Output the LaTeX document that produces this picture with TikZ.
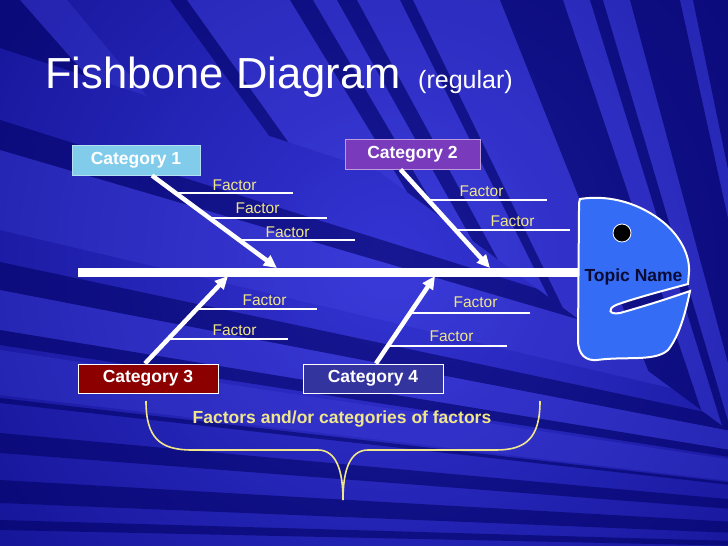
\documentclass[tikz,border=0pt]{standalone}
\usepackage{fontspec}
\setmainfont{Liberation Sans}
\usetikzlibrary{arrows.meta,calc}
\definecolor{bgdark}{RGB}{4,4,120}
\definecolor{bgglow}{RGB}{52,52,212}
\definecolor{stripelight}{RGB}{85,85,245}
\definecolor{stripedark}{RGB}{0,0,95}
\definecolor{cat1col}{RGB}{130,204,235}
\definecolor{cat2col}{RGB}{122,58,188}
\definecolor{cat3col}{RGB}{140,0,0}
\definecolor{cat4col}{RGB}{52,52,158}
\definecolor{factorcol}{RGB}{240,230,140}
\definecolor{headcol}{RGB}{52,108,245}
\definecolor{topiccol}{RGB}{10,10,50}
\begin{document}
\begin{tikzpicture}[x=1pt,y=-1pt,
  catbox/.style={draw=white, line width=1pt, text=white, inner sep=0pt,
    font=\bfseries\fontsize{17.5}{20}\selectfont},
  bone/.style={white, line width=4.5pt, -{Triangle[length=13pt,width=12pt]}},
  fline/.style={white, line width=2.8pt},
  ftext/.style={text=factorcol, inner sep=0pt, font=\fontsize{15.5}{18}\selectfont},
  brace/.style={draw=factorcol, line width=1.6pt},
  lt/.style={fill=stripelight, fill opacity=0.2},
  dk/.style={fill=stripedark, fill opacity=0.55},
]
\useasboundingbox (0,0) rectangle (728,546);
% ---------- background ----------
\begin{scope}
\clip (0,0) rectangle (728,546);
\fill[bgdark] (0,0) rectangle (728,546);
\shade[inner color=bgglow, outer color=bgdark] (390,260) circle (760);
% shallow stripes (left and bottom)
\coordinate (FB) at (1400,560);
\foreach \a/\b/\s in {120/150/dk,150/230/lt,262/290/dk,290/330/lt,330/345/dk,
                      350/395/lt,398/403/dk,433/453/dk,480/503/dk,520/530/dk}
  \fill[\s] (FB) -- ($(FB)!1.3!(0,\a)$) -- ($(FB)!1.3!(0,\b)$) -- cycle;
% steep stripes (top)
\begin{scope}
\clip (0,0) -- (728,0) -- (728,430) -- (380,172) -- (0,48) -- cycle;
\shade[inner color=bgglow, outer color=bgdark] (390,260) circle (760);
\coordinate (FA) at (900,1000);
\foreach \a/\b/\s in {-60/20/dk,20/67/lt,170/187/dk,187/290/lt,290/313/dk,
                      313/337/lt,337/357/dk,357/400/lt,400/413/dk,413/500/lt,
                      500/563/dk,563/590/lt,590/603/dk,603/630/lt,630/680/dk,
                      680/693/lt,693/760/dk}
  \fill[\s] (FA) -- ($(FA)!1.3!(\a,0)$) -- ($(FA)!1.3!(\b,0)$) -- cycle;
\end{scope}
\end{scope}
% ---------- title ----------
\node (title) [anchor=base west, inner sep=0pt, text=white,
  font=\fontsize{43.5}{50}\selectfont] at (45,88) {Fishbone Diagram};
\node (sub) [anchor=base west, inner sep=0pt, text=white,
  font=\fontsize{25}{30}\selectfont] at (418,88) {(regular)};
% ---------- spine ----------
\coordinate (spL) at (78,272);
\coordinate (spR) at (580,272);
\draw[white, line width=9pt] (spL) -- (spR);
% ---------- head ----------
\draw[fill=headcol, draw=white, line width=2pt]
  (580,199) .. controls (612,194) and (642,205) .. (663,222)
  .. controls (680,236) and (690,255) .. (689,272)
  -- (688,284)
  .. controls (662,291) and (632,299) .. (616,305)
  .. controls (607,309) and (609,315) .. (620,313)
  .. controls (645,306) and (670,298) .. (690,291)
  .. controls (686,310) and (680,335) .. (668,350)
  .. controls (655,362) and (625,356) .. (597,360)
  .. controls (586,361) and (578,355) .. (578,340)
  -- (579,210) .. controls (579,202) .. cycle;
\node (eye) [circle, fill=black, draw=white, line width=0.8pt,
  minimum size=18pt, inner sep=0pt] at (622,233) {};
\node (topic) [text=topiccol, inner sep=0pt,
  font=\bfseries\fontsize{17.5}{20}\selectfont] at (633.5,277) {Topic Name};
% ---------- category boxes ----------
\node (cat1) [catbox, fill=cat1col, draw=cat1col!60!white,
  minimum width=128pt, minimum height=30pt] at (136,160) {Category 1};
\node (cat2) [catbox, fill=cat2col, draw=cat2col!50!white,
  minimum width=135pt, minimum height=30pt] at (412.5,154) {Category 2};
\node (cat3) [catbox, fill=cat3col,
  minimum width=140pt, minimum height=29pt] at (148,378.5) {Category 3};
\node (cat4) [catbox, fill=cat4col,
  minimum width=140pt, minimum height=29pt] at (373,378.5) {Category 4};
% ---------- bones ----------
\coordinate (t1) at (277,268);
\coordinate (t2) at (490,268);
\coordinate (t3) at (228,276);
\coordinate (t4) at (435,276);
\draw[bone] ([xshift=16pt]cat1.south) -- (t1);
\draw[bone] ([xshift=-12pt]cat2.south) -- (t2);
\draw[bone] ([xshift=-3pt]cat3.north) -- (t3);
\draw[bone] ([xshift=3pt]cat4.north) -- (t4);
% ---------- factor lines ----------
\coordinate (f11a) at (176,193); \coordinate (f11b) at (293,193);
\coordinate (f12a) at (210,218); \coordinate (f12b) at (327,218);
\coordinate (f13a) at (239,240); \coordinate (f13b) at (355,240);
\coordinate (f21a) at (428,200); \coordinate (f21b) at (547,200);
\coordinate (f22a) at (455,230); \coordinate (f22b) at (570,230);
\coordinate (f31a) at (197,309); \coordinate (f31b) at (317,309);
\coordinate (f32a) at (169,339); \coordinate (f32b) at (288,339);
\coordinate (f41a) at (410,313); \coordinate (f41b) at (530,313);
\coordinate (f42a) at (388,346); \coordinate (f42b) at (507,346);
\foreach \a/\b in {f11a/f11b,f12a/f12b,f13a/f13b,f21a/f21b,f22a/f22b,
                   f31a/f31b,f32a/f32b,f41a/f41b,f42a/f42b}
  \draw[fline] (\a) -- (\b);
% ---------- factor texts ----------
\node (x11) [ftext] at (234.5,185) {Factor};
\node (x12) [ftext] at (257.5,208.5) {Factor};
\node (x13) [ftext] at (287.5,232) {Factor};
\node (x21) [ftext] at (481.5,191) {Factor};
\node (x22) [ftext] at (512.5,221) {Factor};
\node (x31) [ftext] at (264.5,300.5) {Factor};
\node (x32) [ftext] at (234.5,330.5) {Factor};
\node (x41) [ftext] at (475.5,302.5) {Factor};
\node (x42) [ftext] at (451.5,336) {Factor};
% ---------- brace ----------
\coordinate (bl) at (146,401);
\coordinate (bm) at (343,500);
\coordinate (br) at (540,401);
\draw[brace] (bl) .. controls (146,438) and (160,450) .. (192,450)
  -- (318,450) .. controls (336,450) and (343,470) .. (bm);
\draw[brace] (br) .. controls (540,438) and (526,450) .. (496,450)
  -- (368,450) .. controls (350,450) and (343,470) .. (bm);
\node (lbl) [text=factorcol, inner sep=0pt,
  font=\bfseries\fontsize{17.5}{20}\selectfont] at (342,419)
  {Factors and/or categories of factors};
\end{tikzpicture}
\end{document}
